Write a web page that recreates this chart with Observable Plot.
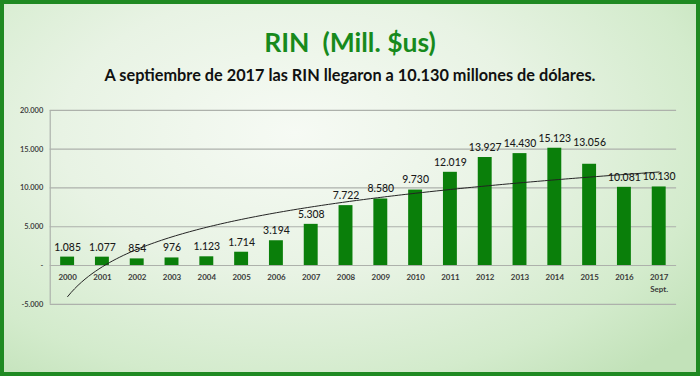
<!DOCTYPE html>
<html>
<head>
<meta charset="utf-8">
<script src="https://cdn.jsdelivr.net/npm/d3@7"></script>
<script src="https://cdn.jsdelivr.net/npm/@observablehq/plot@0.6"></script>
<style>
  html, body { margin: 0; padding: 0; }
  #card {
    position: relative; width: 700px; height: 376px; box-sizing: border-box;
    border: 4px solid #1f8a22; overflow: hidden;
    background: radial-gradient(ellipse 75% 85% at 42% 35%, #f6faf4 0%, #e8f3e4 45%, #d3ebcc 80%, #c2e2b9 100%);
    font-family: Lato, "Open Sans", sans-serif;
  }
  #title {
    position: absolute; left: -4px; width: 700px; top: 23px; text-align: center;
    font-size: 26.5px; font-weight: 700; color: #178a1c; line-height: 30px;
  }
  #subtitle {
    position: absolute; left: -4px; width: 700px; top: 61px; text-align: center;
    font-size: 16.3px; font-weight: 700; color: #111; line-height: 20px;
  }
  #chart { position: absolute; left: -4px; top: 91px; }
</style>
</head>
<body>
<div id="card">
  <div id="title">RIN&nbsp;&nbsp;(Mill. $us)</div>
  <div id="subtitle">A septiembre de 2017 las RIN llegaron a 10.130 millones de dólares.</div>
  <div id="chart"></div>
</div>
<script>
const years = ["2000","2001","2002","2003","2004","2005","2006","2007","2008","2009","2010","2011","2012","2013","2014","2015","2016","2017\nSept."];
const values = [1085,1077,854,976,1123,1714,3194,5308,7722,8580,9730,12019,13927,14430,15123,13056,10081,10130];
const yTicks = [-5000,0,5000,10000,15000,20000];

const loc = d3.formatLocale({decimal: ",", thousands: ".", grouping: [3], currency: ["$", ""], minus: "-"});
const fmt = loc.format(",");
const yFmt = v => v === 0 ? "-" : fmt(v);

const data = years.map((year, i) => ({year, pos: i + 1, value: values[i]}));

// Logarithmic trend line (least squares fit of value on ln(position)), as in the spreadsheet chart
const lx = data.map(d => Math.log(d.pos));
const mx = d3.mean(lx), my = d3.mean(values);
const slope = d3.sum(lx, (l, i) => (l - mx) * (values[i] - my)) / d3.sum(lx, l => (l - mx) ** 2);
const intercept = my - slope * mx;
const trend = d3.range(1, 18.0001, 0.1).map(t => ({t, v: intercept + slope * Math.log(t)}));

const chart = Plot.plot({
  width: 700,
  height: 281,
  marginTop: 15,
  marginBottom: 71,
  marginLeft: 50,
  marginRight: 20,
  style: {background: "transparent", fontFamily: "Lato, sans-serif", color: "#333"},
  x: {domain: [0.5, 18.5], axis: null},
  y: {domain: [-5000, 20000], axis: null},
  marks: [
    Plot.ruleY(yTicks, {stroke: "#adb1ab", strokeWidth: 1.2}),
    Plot.ruleX([0.5], {y1: -5000, y2: 20000, stroke: "#adb1ab", strokeWidth: 1.2}),
    Plot.axisY({ticks: yTicks, tickFormat: yFmt, tickSize: 0, tickPadding: 7, fontSize: 7.5, fontWeight: 600}),
    Plot.rectY(data, {x1: d => d.pos - 0.2, x2: d => d.pos + 0.2, y1: 0, y2: "value", fill: "#0a7f0a"}),
    Plot.line(trend, {x: "t", y: "v", stroke: "#222", strokeWidth: 1}),
    Plot.text(data, {x: "pos", y: 0, text: "year", dy: 7, lineAnchor: "top", fontSize: 8, fontWeight: 700, lineHeight: 1.4, fill: "#3a3a3a"}),
    Plot.text(data.filter(d => d.year !== "2015"), {x: "pos", y: "value", text: d => fmt(d.value), dy: -10, fontSize: 10.5, fontWeight: 500, fill: "#1a1a1a"}),
    Plot.text(data.filter(d => d.year === "2015"), {x: "pos", y: "value", text: d => fmt(d.value), dy: -22, fontSize: 10.5, fontWeight: 500, fill: "#1a1a1a"})
  ]
});
document.getElementById("chart").appendChild(chart);
</script>
</body>
</html>
